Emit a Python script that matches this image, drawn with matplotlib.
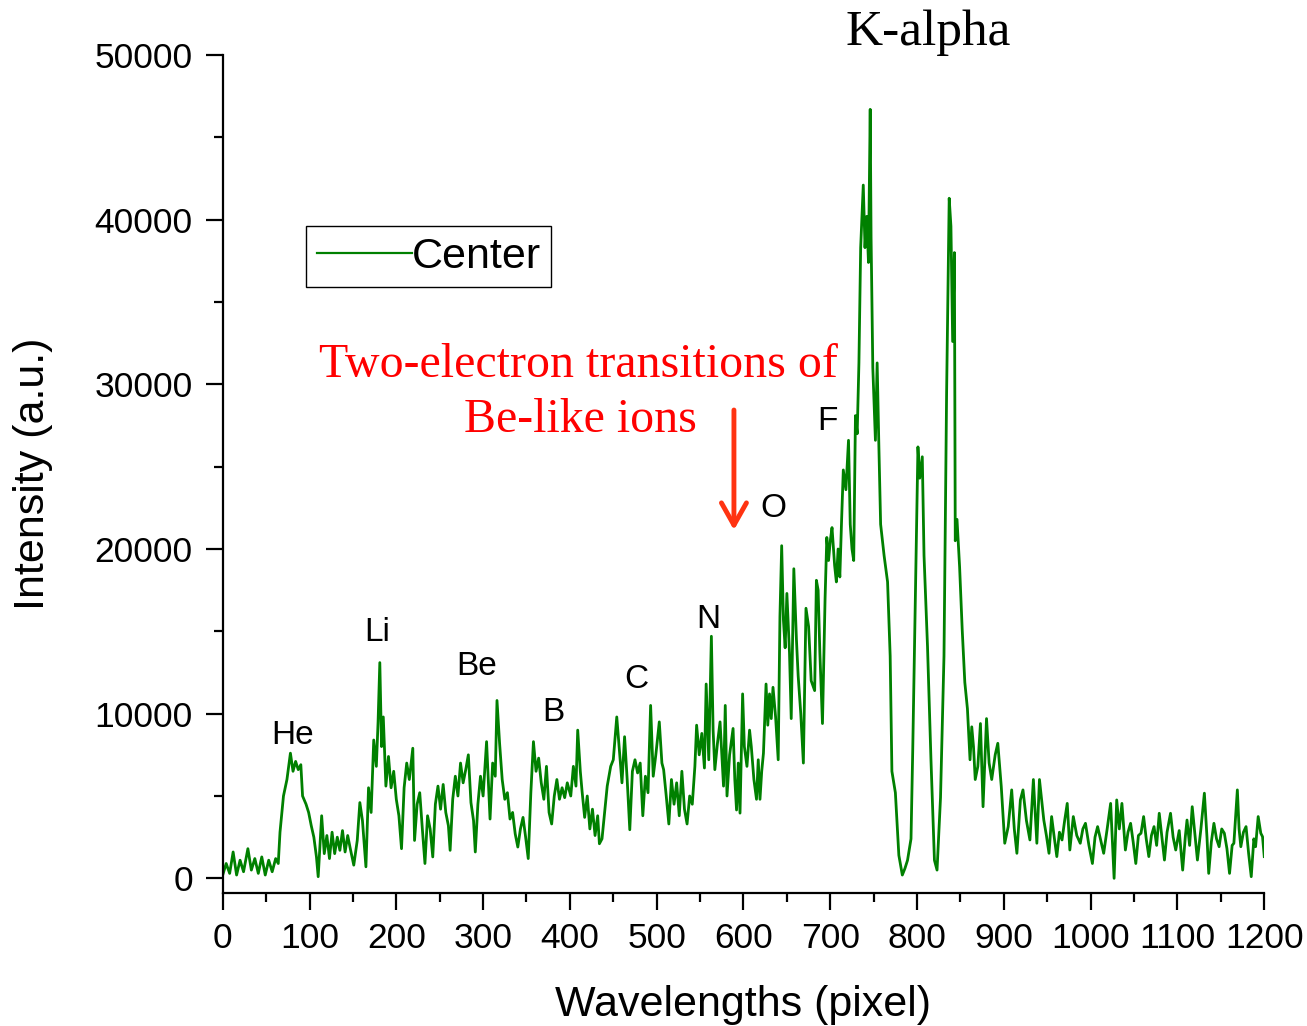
import matplotlib
matplotlib.use("Agg")
import matplotlib.pyplot as plt
from matplotlib.ticker import MultipleLocator

# Spectrum recorded at the centre position: detector pixel vs. counts
pixel = [
    0, 4, 8, 12, 16, 20, 24, 29, 33, 37, 41, 45, 49, 53, 57, 61, 64, 66, 70, 74,
    78, 81, 84, 87, 90, 92, 96, 99, 102, 105, 108, 110, 114, 117, 120, 123, 126, 129, 132, 135,
    138, 141, 144, 147, 151, 155, 158, 161, 165, 168, 171, 174, 177, 179, 181, 183, 185, 188, 191, 194,
    197, 200, 203, 206, 209, 212, 215, 219, 221, 224, 227, 230, 233, 236, 239, 242, 245, 248, 251, 254,
    257, 260, 262, 265, 268, 271, 274, 277, 280, 283, 286, 289, 291, 294, 297, 300, 304, 308, 311, 314,
    316, 319, 322, 325, 328, 331, 334, 337, 340, 343, 346, 349, 352, 355, 358, 361, 364, 367, 370, 373,
    376, 379, 382, 385, 388, 391, 394, 397, 401, 404, 407, 409, 412, 414, 417, 420, 423, 426, 429, 432,
    434, 437, 440, 443, 447, 450, 454, 457, 460, 463, 466, 469, 472, 475, 478, 481, 484, 487, 490, 493,
    496, 499, 503, 506, 508, 511, 514, 517, 520, 523, 526, 529, 532, 535, 538, 541, 544, 546, 549, 552,
    555, 557, 560, 563, 565, 567, 570, 573, 577, 579, 581, 584, 588, 590, 592, 594, 596, 599, 601, 604,
    607, 609, 612, 615, 617, 619, 621, 623, 626, 628, 630, 632, 634, 637, 640, 642, 644, 646, 648, 650,
    653, 655, 658, 661, 663, 666, 669, 672, 675, 678, 682, 684, 686, 688, 691, 694, 696, 698, 700, 702,
    705, 707, 709, 711, 713, 715, 718, 721, 723, 725, 727, 729, 731, 733, 735, 738, 740, 742, 744, 746,
    747, 749, 752, 754, 756, 758, 762, 766, 769, 771, 775, 779, 783, 786, 789, 793, 795, 798, 801, 803,
    806, 808, 812, 816, 820, 823, 827, 831, 834, 837, 839, 841, 843, 844, 846, 849, 852, 855, 858, 861,
    863, 865, 867, 870, 873, 876, 880, 883, 886, 890, 893, 897, 901, 905, 909, 912, 915, 919, 922, 926,
    930, 934, 938, 941, 946, 949, 952, 955, 958, 961, 964, 967, 970, 973, 976, 980, 984, 988, 991, 994,
    998, 1002, 1005, 1008, 1012, 1015, 1019, 1023, 1027, 1030, 1033, 1036, 1040, 1043, 1046, 1049, 1052, 1055, 1058, 1061,
    1064, 1067, 1070, 1073, 1076, 1079, 1082, 1085, 1088, 1092, 1095, 1098, 1102, 1106, 1109, 1111, 1114, 1117, 1120, 1123,
    1127, 1131, 1134, 1136, 1139, 1142, 1145, 1148, 1151, 1154, 1157, 1160, 1163, 1165, 1169, 1171, 1173, 1176, 1179, 1182,
    1185, 1188, 1190, 1193, 1196, 1198, 1200,
]

intensity = [
    200, 900, 300, 1600, 200, 1100, 400, 1800, 500, 1200, 300, 1300, 200, 1100, 400, 1200, 900, 2800, 5000, 6000,
    7600, 6500, 7100, 6600, 6900, 5000, 4500, 4000, 3200, 2500, 1300, 100, 3800, 1500, 2600, 1200, 2800, 1500, 2500, 1700,
    2900, 1600, 2600, 1800, 800, 2300, 4600, 3500, 700, 5500, 4000, 8400, 6800, 9500, 13100, 8000, 9800, 5600, 7400, 5500,
    6500, 4800, 3800, 1800, 5500, 7000, 6000, 7900, 2300, 4500, 5200, 3000, 900, 3800, 3000, 1300, 4500, 5600, 4200, 5700,
    4000, 3200, 1700, 4800, 6200, 5000, 7000, 5800, 6600, 7500, 4600, 3500, 1600, 4500, 6200, 5000, 8300, 3600, 7000, 6200,
    10800, 8200, 6000, 4800, 5200, 3600, 4000, 2700, 1900, 3000, 3700, 2500, 1200, 5200, 8300, 6500, 7300, 5800, 4800, 6800,
    4000, 3300, 5000, 6000, 4800, 5500, 4900, 5800, 5000, 6800, 5600, 9000, 6500, 5300, 3700, 5000, 3000, 4200, 2600, 3800,
    2100, 2400, 4000, 5600, 6800, 7200, 9800, 7800, 5800, 8600, 6000, 2950, 6500, 7200, 6400, 7000, 3800, 6200, 5200, 10500,
    6200, 7500, 9500, 7000, 6600, 5000, 3300, 6000, 4500, 5800, 3800, 6500, 4200, 3300, 5000, 4500, 6800, 9300, 7500, 8800,
    6700, 11800, 7200, 14700, 9000, 6600, 8200, 9500, 5600, 10500, 5000, 7500, 9100, 6000, 4150, 7000, 3960, 11200, 8000, 6800,
    9000, 8000, 6000, 4800, 7200, 4800, 6500, 7600, 11800, 9300, 11200, 9700, 11600, 9800, 7200, 15900, 20200, 15700, 14000, 17300,
    13700, 9700, 18800, 14500, 12300, 10000, 7000, 16400, 15300, 12000, 11400, 18100, 17500, 13700, 9400, 17000, 20700, 19300, 20500, 21300,
    19000, 18000, 20000, 18300, 21700, 24800, 23600, 26600, 21500, 20000, 19300, 28100, 27000, 31300, 38300, 42100, 38300, 40200, 37400, 46700,
    38900, 31000, 26600, 31300, 26200, 21500, 19600, 18000, 13500, 6500, 5200, 1400, 200, 600, 1100, 2400, 7800, 17000, 26200, 24300,
    25600, 19600, 14100, 7200, 1100, 500, 4900, 13500, 29400, 41300, 39600, 32600, 38000, 20500, 21800, 18900, 15100, 11900, 10300, 7200,
    9200, 8000, 6000, 6800, 9400, 4350, 9700, 7000, 6000, 7500, 8200, 5570, 2130, 3140, 5370, 3000, 1520, 4760, 5370, 3500,
    2330, 6000, 2130, 6000, 3540, 2600, 1520, 3750, 2500, 1320, 2800, 2330, 3500, 4550, 1720, 3750, 2600, 2130, 3000, 3340,
    2000, 900, 2500, 3140, 2200, 1520, 3000, 4550, 0, 4760, 3000, 4550, 1720, 2800, 3340, 2200, 900, 2600, 2740, 3750,
    2400, 1320, 2600, 3140, 2000, 3950, 2500, 1110, 2800, 3950, 2500, 1720, 2900, 500, 2500, 3540, 2000, 4350, 2700, 1110,
    3000, 5170, 2500, 300, 2200, 3340, 2400, 1920, 3000, 2740, 1800, 300, 2000, 2130, 5370, 3000, 1920, 2800, 3140, 1500,
    100, 2400, 1920, 3750, 2740, 2530, 1320,
]

# Ion stage labels and their positions (pixel, intensity)
ion_labels = ["He", "Li", "Be", "B", "C", "N", "O", "F"]
ion_label_x = [81, 178, 293, 381, 477, 559, 635, 697]
ion_label_y = [8650, 14900, 12850, 10100, 12050, 15700, 22450, 27750]

x_ticks = list(range(0, 1201, 100))
y_ticks = list(range(0, 50001, 10000))

plt.rcParams["font.family"] = ["Liberation Sans", "DejaVu Sans"]

fig = plt.figure(figsize=(13.07, 10.26), dpi=100)
ax = fig.add_axes([0.1704, 0.1296, 0.7969, 0.8168])

ax.plot(pixel, intensity, color="#008000", lw=2.0, label="Center")

ax.set_xlim(0, 1200)
ax.set_ylim(-893, 50000)
ax.set_xticks(x_ticks)
ax.set_yticks(y_ticks)
ax.xaxis.set_minor_locator(MultipleLocator(50))
ax.yaxis.set_minor_locator(MultipleLocator(5000))

for side in ("top", "right"):
    ax.spines[side].set_visible(False)
for side in ("left", "bottom"):
    ax.spines[side].set_linewidth(1.6)
ax.spines["left"].set_bounds(-893, 50000)

ax.tick_params(which="major", direction="out", length=12.5, width=1.6,
               labelsize=25.5, pad=8)
ax.tick_params(axis="y", which="major", pad=9)
ax.tick_params(which="minor", direction="out", length=6.5, width=1.6)

ax.set_xlabel("Wavelengths (pixel)", fontsize=31, labelpad=22)
ax.set_ylabel("Intensity (a.u.)", fontsize=31, labelpad=30)

for lab, lx, ly in zip(ion_labels, ion_label_x, ion_label_y):
    ax.text(lx, ly, lab, fontsize=24, ha="center", va="center")

serif = ["Liberation Serif", "DejaVu Serif"]
ax.text(812.6, 50600, "K-alpha", fontsize=37, family=serif,
        ha="center", va="baseline", clip_on=False)
ax.text(409.3, 30440, "Two-electron transitions of", fontsize=34.5,
        family=serif, color="red", ha="center", va="baseline")
ax.text(412.2, 27100, "Be-like ions", fontsize=34.5,
        family=serif, color="red", ha="center", va="baseline")
ax.annotate("", xy=(589, 21150), xytext=(589, 28440),
            arrowprops=dict(arrowstyle="->,head_length=0.8,head_width=0.45",
                            mutation_scale=20, color="#ff3311", lw=3.5,
                            shrinkA=0, shrinkB=0))

leg = ax.legend(loc="upper left", bbox_to_anchor=(0.080, 0.796),
                borderaxespad=0, fontsize=31, handlelength=2.2,
                handletextpad=0.0, borderpad=0.25, fancybox=False,
                framealpha=1, edgecolor="black")
leg.get_frame().set_linewidth(1.0)
leg.get_lines()[0].set_linewidth(1.6)

fig.savefig("out.png", dpi=100)
